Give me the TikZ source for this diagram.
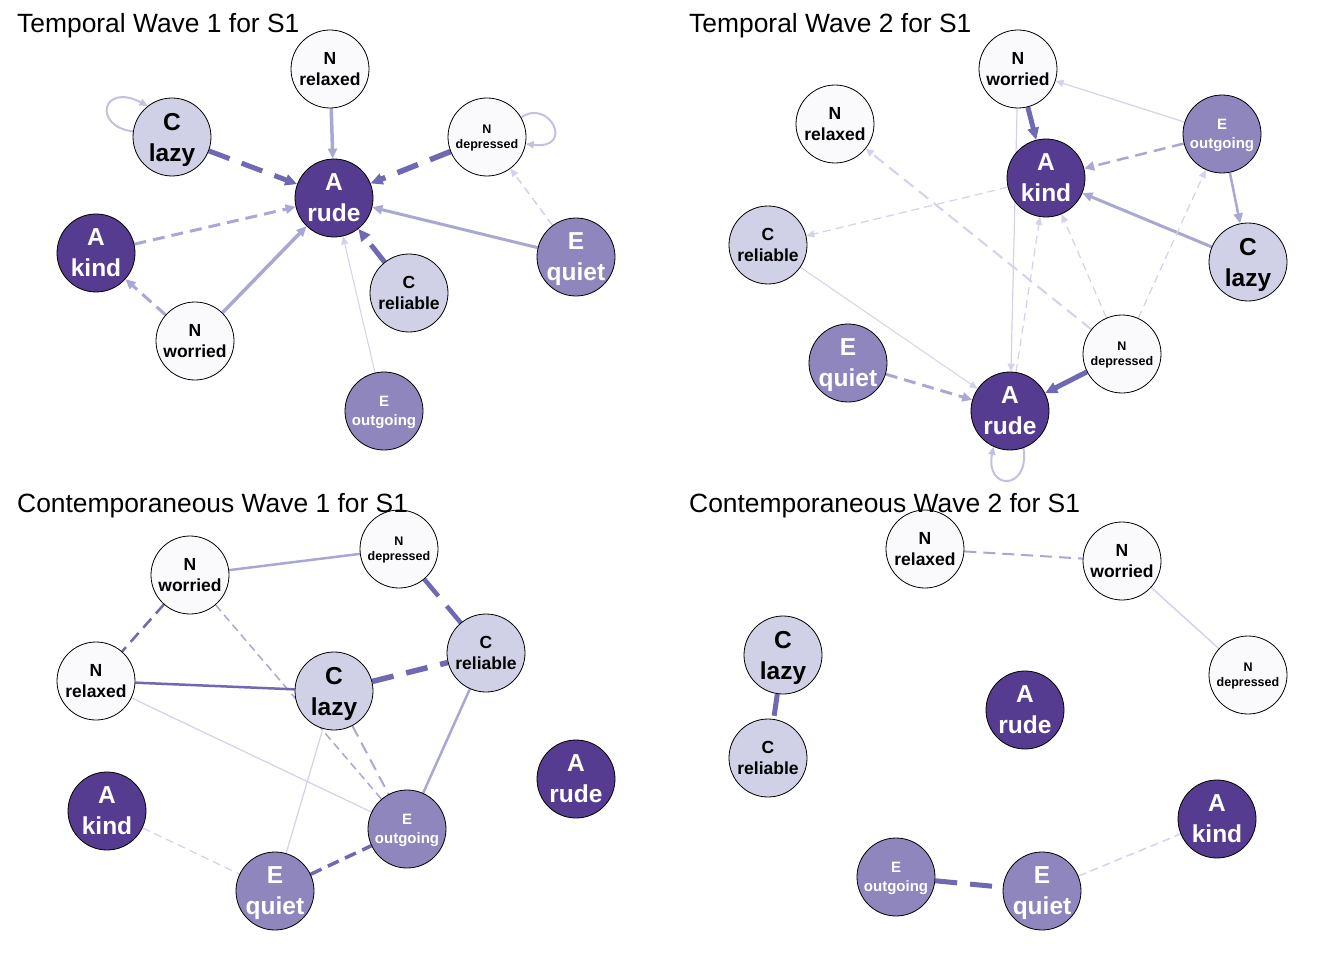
\documentclass[tikz,border=0pt]{standalone}
\usepackage{fontspec}
\setmainfont{Liberation Sans}
\usetikzlibrary{arrows.meta,backgrounds}
\definecolor{fA}{HTML}{553C91}
\definecolor{fE}{HTML}{8E86BD}
\definecolor{fC}{HTML}{D0D0E6}
\definecolor{fN}{HTML}{FAFAFD}
\definecolor{cD}{HTML}{6F68B2}
\definecolor{cM}{HTML}{A9A8D4}
\definecolor{cL}{HTML}{D3D2EA}
\definecolor{cLM}{HTML}{C2C1E0}
\newcommand{\nod}[1]{\raisebox{0pt}[\height][0pt]{#1}}
\tikzset{
 nd/.style={circle,draw=black,line width=0.8pt,minimum size=78pt,inner sep=0pt,align=center},
 nA/.style={nd,fill=fA,text=white},
 nE/.style={nd,fill=fE,text=white},
 nC/.style={nd,fill=fC,text=black},
 nN/.style={nd,fill=fN,text=black},
 fbig/.style={font=\bfseries\fontsize{24.5}{31}\selectfont},
 fmid/.style={font=\bfseries\fontsize{17.5}{21.5}\selectfont},
 fsm/.style={font=\bfseries\fontsize{15}{18.5}\selectfont},
 fxs/.style={font=\bfseries\fontsize{12.5}{15}\selectfont},
 ttl/.style={anchor=base west,inner sep=0pt,font=\fontsize{26.4}{30}\selectfont},
 lt/.style={draw=cL}, md/.style={draw=cM}, dk/.style={draw=cD}, lm/.style={draw=cLM},
 lw/.style={line width=#1},
 ahs/.style={-{Triangle[length=8pt,width=7pt]}},
 ahm/.style={-{Triangle[length=10pt,width=9pt]}},
 ahl/.style={-{Triangle[length=12pt,width=11pt]}},
 dl/.style={dash pattern=on 8pt off 5pt},
 dm/.style={dash pattern=on 12pt off 7pt},
 dt/.style={dash pattern=on 22pt off 13pt},
}
\begin{document}
\begin{tikzpicture}[x=1pt,y=-1pt]
\useasboundingbox (0,0) rectangle (1344,960);
% ---------------- Panel 1: Temporal Wave 1
\node[nN,fmid] (a-relaxed) at (330,69) {N\\relaxed};
\node[nC,fbig] (a-lazy) at (172,137) {C\\\nod{lazy}};
\node[nN,fxs] (a-depressed) at (487,137) {N\\\nod{depressed}};
\node[nA,fbig] (a-rude) at (334,198) {A\\rude};
\node[nA,fbig] (a-kind) at (96,253) {A\\kind};
\node[nE,fbig] (a-quiet) at (576,257) {E\\\nod{quiet}};
\node[nC,fmid] (a-reliable) at (409,293) {C\\reliable};
\node[nN,fmid] (a-worried) at (195,341) {N\\worried};
\node[nE,fsm] (a-outgoing) at (384,411) {E\\\nod{outgoing}};
% ---------------- Panel 2: Temporal Wave 2
\node[nN,fmid] (b-worried) at (1018,69) {N\\worried};
\node[nN,fmid] (b-relaxed) at (835,124) {N\\relaxed};
\node[nE,fsm] (b-outgoing) at (1222,134) {E\\\nod{outgoing}};
\node[nA,fbig] (b-kind) at (1046,178) {A\\kind};
\node[nC,fmid] (b-reliable) at (768,245) {C\\reliable};
\node[nC,fbig] (b-lazy) at (1248,262) {C\\\nod{lazy}};
\node[nE,fbig] (b-quiet) at (848,363) {E\\\nod{quiet}};
\node[nN,fxs] (b-depressed) at (1122,354) {N\\\nod{depressed}};
\node[nA,fbig] (b-rude) at (1010,411) {A\\rude};
% ---------------- Panel 3: Contemporaneous Wave 1
\node[nN,fmid] (c-worried) at (190,575) {N\\worried};
\node[nN,fxs] (c-depressed) at (399,549) {N\\\nod{depressed}};
\node[nC,fmid] (c-reliable) at (486,653) {C\\reliable};
\node[nN,fmid] (c-relaxed) at (96,681) {N\\relaxed};
\node[nC,fbig] (c-lazy) at (334,691) {C\\\nod{lazy}};
\node[nA,fbig] (c-kind) at (107,811) {A\\kind};
\node[nE,fsm] (c-outgoing) at (407,829) {E\\\nod{outgoing}};
\node[nA,fbig] (c-rude) at (576,779) {A\\rude};
\node[nE,fbig] (c-quiet) at (275,891) {E\\\nod{quiet}};
% ---------------- Panel 4: Contemporaneous Wave 2
\node[nN,fmid] (d-relaxed) at (925,549) {N\\relaxed};
\node[nN,fmid] (d-worried) at (1122,561) {N\\worried};
\node[nC,fbig] (d-lazy) at (783,655) {C\\\nod{lazy}};
\node[nN,fxs] (d-depressed) at (1248,675) {N\\\nod{depressed}};
\node[nA,fbig] (d-rude) at (1025,710) {A\\rude};
\node[nC,fmid] (d-reliable) at (768,758) {C\\reliable};
\node[nA,fbig] (d-kind) at (1217,819) {A\\kind};
\node[nE,fsm] (d-outgoing) at (896,877) {E\\\nod{outgoing}};
\node[nE,fbig] (d-quiet) at (1042,891) {E\\\nod{quiet}};
% ---------------- edges
\begin{scope}[on background layer]
\fill[white] (0,0) rectangle (1344,960);
% panel 1
\draw[dk,lw=5,dt,ahl] (a-lazy) -- (a-rude);
\draw[md,lw=3.5,ahm] (a-relaxed) -- (a-rude);
\draw[dk,lw=5.5,dt,ahl] (a-depressed) -- (a-rude);
\draw[md,lw=3,dm,ahm] (a-kind) -- (a-rude);
\draw[md,lw=3,ahm] (a-quiet) -- (a-rude);
\draw[lt,lw=1.5,dl,ahs] (a-quiet) -- (a-depressed);
\draw[dk,lw=5,dt,ahl] (a-reliable) -- (a-rude);
\draw[md,lw=3.5,ahm] (a-worried) -- (a-rude);
\draw[md,lw=3,dm,ahm] (a-worried) -- (a-kind);
\draw[lt,lw=1,ahs] (a-outgoing) -- (a-rude);
\draw[lm,lw=2,ahs] (a-lazy.172) .. controls (92,126) and (102,82) .. (a-lazy.128);
\draw[lm,lw=2,ahs] (a-depressed.30) .. controls (550,98) and (575,150) .. (a-depressed.-10);
% panel 2
\draw[lt,lw=1.2,ahs] (b-outgoing) -- (b-worried);
\draw[dk,lw=5,ahl] (b-worried) -- (b-kind);
\draw[md,lw=2.5,dm,ahm] (b-outgoing) -- (b-kind);
\draw[md,lw=2.5,ahm] (b-outgoing) -- (b-lazy);
\draw[md,lw=3,ahm] (b-lazy) -- (b-kind);
\draw[lt,lw=1.2,dl,ahs] (b-kind) -- (b-reliable);
\draw[lt,lw=2,dm,ahs] (b-depressed) -- (b-relaxed);
\draw[lt,lw=1.2,dl,ahs] (b-depressed) -- (b-kind);
\draw[lt,lw=1.2,dl,ahs] (b-depressed) -- (b-outgoing);
\draw[dk,lw=5,ahl] (b-depressed) -- (b-rude);
\draw[lt,lw=1.2,ahs] (b-worried) -- (b-rude);
\draw[lt,lw=1.2,dl,ahs] (b-rude) -- (b-kind);
\draw[lt,lw=1,ahs] (b-reliable) -- (b-rude);
\draw[md,lw=3,dm,ahm] (b-quiet) -- (b-rude);
\draw[lm,lw=2,ahs] (b-rude.-70) .. controls (1030,491) and (985,491) .. (b-rude.-115);
% panel 3
\draw[md,lw=2.5] (c-worried) -- (c-depressed);
\draw[dk,lw=2.5,dm] (c-worried) -- (c-relaxed);
\draw[md,lw=1.5,dl] (c-worried) -- (c-outgoing);
\draw[dk,lw=4.5,dt] (c-depressed) -- (c-reliable);
\draw[dk,lw=5.5,dt] (c-lazy) -- (c-reliable);
\draw[dk,lw=2.5] (c-relaxed) -- (c-lazy);
\draw[lt,lw=1.2] (c-relaxed) -- (c-outgoing);
\draw[md,lw=2.5] (c-reliable) -- (c-outgoing);
\draw[lt,lw=1.2] (c-lazy) -- (c-quiet);
\draw[md,lw=2,dm] (c-lazy) -- (c-outgoing);
\draw[dk,lw=3.5,dm] (c-quiet) -- (c-outgoing);
\draw[lt,lw=1.2,dl] (c-kind) -- (c-quiet);
% panel 4
\draw[md,lw=2,dm] (d-relaxed) -- (d-worried);
\draw[lt,lw=1.5] (d-worried) -- (d-depressed);
\draw[dk,lw=5,dt] (d-lazy) -- (d-reliable);
\draw[dk,lw=5,dt] (d-outgoing) -- (d-quiet);
\draw[lt,lw=1.5,dl] (d-quiet) -- (d-kind);
\end{scope}
% ---------------- titles
\node[ttl] (t1) at (17,32.5) {Temporal Wave 1 for S1};
\node[ttl] (t2) at (689,32.5) {Temporal Wave 2 for S1};
\node[ttl] (t3) at (17,512.5) {Contemporaneous Wave 1 for S1};
\node[ttl] (t4) at (689,512.5) {Contemporaneous Wave 2 for S1};
\end{tikzpicture}
\end{document}
